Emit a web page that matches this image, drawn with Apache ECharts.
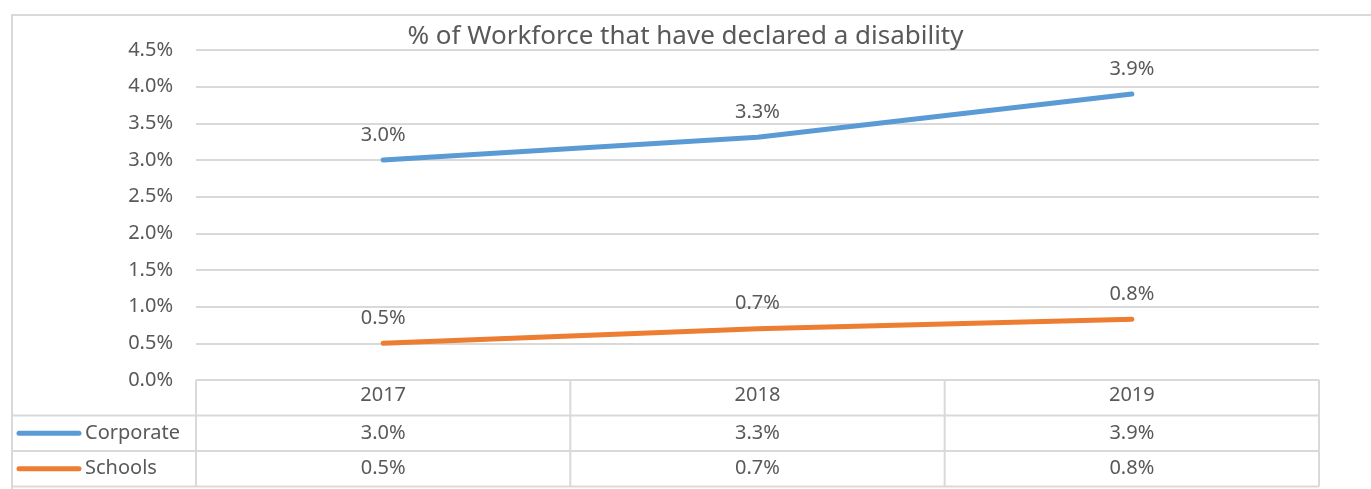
<!DOCTYPE html>
<html>
<head>
    <meta charset="utf-8">
    <title>ECharts</title>
    <script src="https://cdn.jsdelivr.net/npm/echarts/dist/echarts.min.js"></script>
    <style>
        body { margin: 0; background: #fff; }
    </style>
</head>
<body>
    <div id="main" style="width: 1371px;height:489px;"></div>
    <script type="text/javascript">

    // data (percent)
    var years = ['2017', '2018', '2019'];
    var corporate = [3.0, 3.31, 3.9];
    var schools = [0.5, 0.7, 0.83];
    var seriesNames = ['Corporate', 'Schools'];
    var colors = ['#5B9BD5', '#ED7D31'];
    var titleText = '% of Workforce that have declared a disability';

    var FONT = '"Noto Sans", sans-serif';
    var FS = 20;
    var textColor = '#595959';
    var lineGrey = '#d9d9d9';

    // layout
    var gLeft = 196, gRight = 1319, gTop = 50, gBottom = 380;
    var rowH = 35.5;
    var colW = (gRight - gLeft) / years.length;

    function pct(v) { return v.toFixed(1) + '%'; }

    var myChart = echarts.init(document.getElementById('main'));

    // data table under the plot
    var graphics = [];
    graphics.push({
        type: 'rect',
        shape: {x: 12, y: 15, width: 1400, height: 520},
        style: {fill: 'none', stroke: lineGrey, lineWidth: 2},
        silent: true
    });
    // horizontal lines of table
    var rowYs = [gBottom, gBottom + rowH, gBottom + rowH * 2, gBottom + rowH * 3];
    for (var r = 0; r < rowYs.length; r++) {
        graphics.push({
            type: 'line',
            shape: {x1: r === 0 ? gLeft : 12, y1: rowYs[r], x2: gRight, y2: rowYs[r]},
            style: {stroke: lineGrey, lineWidth: 2}
        });
    }
    // vertical lines
    for (var c = 0; c <= years.length; c++) {
        graphics.push({
            type: 'line',
            shape: {x1: gLeft + colW * c, y1: gBottom, x2: gLeft + colW * c, y2: rowYs[3]},
            style: {stroke: lineGrey, lineWidth: 2}
        });
    }
    var rows = [corporate, schools];
    for (var s = 0; s < rows.length; s++) {
        var cy = gBottom + rowH * (s + 1.5);
        graphics.push({
            type: 'line',
            shape: {x1: 19, y1: cy, x2: 79, y2: cy},
            style: {stroke: colors[s], lineWidth: 5, lineCap: 'round'}
        });
        graphics.push({
            type: 'text', x: 85, y: cy,
            style: {text: seriesNames[s], fill: textColor, font: FS + 'px ' + FONT,
                    textAlign: 'left', textVerticalAlign: 'middle'}
        });
        for (var i = 0; i < years.length; i++) {
            graphics.push({
                type: 'text', x: gLeft + colW * (i + 0.5), y: cy,
                style: {text: pct(rows[s][i]), fill: textColor, font: FS + 'px ' + FONT,
                        textAlign: 'center', textVerticalAlign: 'middle'}
            });
        }
    }

    function lineSeries(idx, data) {
        return {
            name: seriesNames[idx],
            type: 'line',
            data: data,
            symbol: 'circle',
            symbolSize: 0,
            lineStyle: {color: colors[idx], width: 5, cap: 'round'},
            itemStyle: {color: colors[idx]},
            label: {
                show: true, position: 'top', distance: 15,
                color: textColor, fontFamily: FONT, fontSize: FS,
                formatter: function (p) { return pct(p.value); }
            }
        };
    }

    var option = {
        backgroundColor: '#fff',
        animation: false,
        title: {
            text: titleText,
            left: 'center',
            top: 19,
            textStyle: {color: textColor, fontFamily: FONT, fontSize: 26, fontWeight: 'normal'}
        },
        grid: {
            left: gLeft,
            right: 1371 - gRight,
            top: gTop,
            bottom: 489 - gBottom
        },
        xAxis: {
            type: 'category',
            data: years,
            boundaryGap: true,
            axisLine: {show: false},
            axisTick: {show: false},
            axisLabel: {color: textColor, fontFamily: FONT, fontSize: FS, margin: 5}
        },
        yAxis: {
            type: 'value',
            min: 0,
            max: 4.5,
            interval: 0.5,
            axisLine: {show: false},
            axisTick: {show: false},
            axisLabel: {
                color: textColor, fontFamily: FONT, fontSize: FS, margin: 23,
                formatter: function (v) { return pct(v); }
            },
            splitLine: {lineStyle: {color: lineGrey, width: 2}}
        },
        series: [
            lineSeries(0, corporate),
            lineSeries(1, schools)
        ],
        graphic: graphics
    };

    myChart.setOption(option);
    </script>
</body>
</html>
